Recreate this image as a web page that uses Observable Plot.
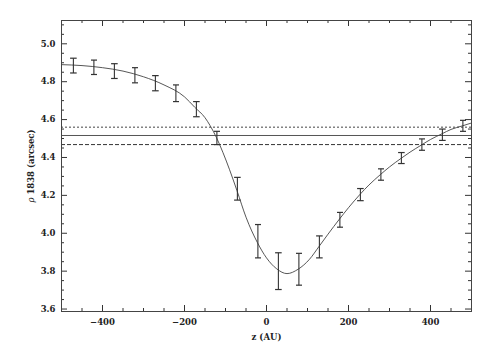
<!DOCTYPE html>
<html>
<head>
<meta charset="utf-8">
<script src="https://cdn.jsdelivr.net/npm/d3@7"></script>
<script src="https://cdn.jsdelivr.net/npm/@observablehq/plot@0.6"></script>
<style>
  html, body { margin: 0; padding: 0; background: #fff; }
  #chart svg { display: block; }
</style>
</head>
<body>
<div id="chart"></div>
<script>
// Observed points: z (AU), rho 1838 (arcsec), half error bar
const zObs   = [-471,-421,-371,-321,-271,-221,-171,-121,-71,-21,29,79,129,179,229,279,329,379,429,479];
const rhoObs = [4.885,4.876,4.856,4.834,4.792,4.739,4.655,4.503,4.235,3.958,3.800,3.810,3.928,4.071,4.204,4.310,4.397,4.468,4.520,4.567];
const rhoErr = [0.039,0.038,0.039,0.040,0.040,0.044,0.040,0.035,0.060,0.088,0.097,0.084,0.058,0.039,0.032,0.030,0.029,0.030,0.030,0.029];

// Model curve
const zFit   = [-500,-450,-400,-350,-300,-250,-200,-175,-150,-138,-122,-106,-90,-72,-50,-22,0,25,50,77,105,128,150,178,200,228,250,278,300,328,350,378,400,428,450,478,500];
const rhoFit = [4.890,4.885,4.874,4.856,4.826,4.783,4.720,4.665,4.610,4.570,4.505,4.425,4.335,4.225,4.085,3.950,3.870,3.812,3.787,3.810,3.863,3.930,3.995,4.075,4.135,4.205,4.255,4.310,4.350,4.395,4.428,4.466,4.495,4.525,4.548,4.567,4.582];

// Horizontal reference levels
const rhoMean  = [4.516];
const rhoUpper = [4.560];
const rhoLower = [4.468];

// Axes
const xDomain = [-500, 500];
const yDomain = [3.587, 5.123];
const xMajor = [-400, -200, 0, 200, 400];
const xMinor = [-500,-450,-350,-300,-250,-150,-100,-50,50,100,150,250,300,350,450,500];
const yMajor = [3.6, 3.8, 4.0, 4.2, 4.4, 4.6, 4.8, 5.0];
const yMinor = [3.65,3.7,3.75,3.85,3.9,3.95,4.05,4.1,4.15,4.25,4.3,4.35,4.45,4.5,4.55,4.65,4.7,4.75,4.85,4.9,4.95,5.05,5.1];

const W = 491, H = 351;
const mL = 61, mR = 20, mT = 20, mB = 40;
const iw = W - mL - mR, ih = H - mT - mB;
const majorLen = 6, minorLen = 3;
const ink = "#333";

const obs = zObs.map((z, i) => ({z, rho: rhoObs[i], lo: rhoObs[i] - rhoErr[i], hi: rhoObs[i] + rhoErr[i]}));
const fit = zFit.map((z, i) => ({z, rho: rhoFit[i]}));

const chart = Plot.plot({
  width: W, height: H,
  marginLeft: mL, marginRight: mR, marginTop: mT, marginBottom: mB,
  style: {fontFamily: "'DejaVu Serif', serif", fontSize: "8.5px", fontWeight: "bold", color: "#222", background: "#fff"},
  x: {domain: xDomain},
  y: {domain: yDomain},
  marks: [
    Plot.ruleY(rhoUpper, {stroke: "#444", strokeWidth: 1, strokeDasharray: "2,2"}),
    Plot.ruleY(rhoMean, {stroke: "#555", strokeWidth: 1}),
    Plot.ruleY(rhoLower, {stroke: "#333", strokeWidth: 1, strokeDasharray: "4,2"}),
    Plot.line(fit, {x: "z", y: "rho", stroke: "#444", strokeWidth: 0.9, curve: "monotone-x"}),
    Plot.link(obs, {x1: "z", x2: "z", y1: "lo", y2: "hi", stroke: ink, strokeWidth: 1.1, markerStart: "tick", markerEnd: "tick"}),
    // inward ticks on all four sides
    Plot.tickX(xMajor, {x: d => d, insetTop: ih - majorLen, stroke: ink}),
    Plot.tickX(xMinor, {x: d => d, insetTop: ih - minorLen, stroke: ink}),
    Plot.tickX(xMajor, {x: d => d, insetBottom: ih - majorLen, stroke: ink}),
    Plot.tickX(xMinor, {x: d => d, insetBottom: ih - minorLen, stroke: ink}),
    Plot.tickY(yMajor, {y: d => d, insetRight: iw - majorLen, stroke: ink}),
    Plot.tickY(yMinor, {y: d => d, insetRight: iw - minorLen, stroke: ink}),
    Plot.tickY(yMajor, {y: d => d, insetLeft: iw - majorLen, stroke: ink}),
    Plot.tickY(yMinor, {y: d => d, insetLeft: iw - minorLen, stroke: ink}),
    Plot.frame({stroke: "#444", strokeWidth: 1}),
    Plot.axisX({ticks: xMajor, tickSize: 0, tickPadding: 7, label: "z (AU)", labelAnchor: "center", labelArrow: "none", labelOffset: 28}),
    Plot.axisY({ticks: yMajor, tickSize: 0, tickPadding: 6, tickFormat: d3.format(".1f"), label: "ρ 1838 (arcsec)", labelAnchor: "center", labelArrow: "none", labelOffset: 34})
  ]
});
document.getElementById("chart").appendChild(chart);

// italicise the rho in the y label
d3.select(chart).selectAll("text").each(function () {
  const t = d3.select(this);
  if (t.text() === "ρ 1838 (arcsec)") {
    t.text(null);
    t.append("tspan").attr("font-style", "italic").attr("font-weight", "normal").text("ρ");
    t.append("tspan").text(" 1838 (arcsec)");
  }
});
</script>
</body>
</html>
